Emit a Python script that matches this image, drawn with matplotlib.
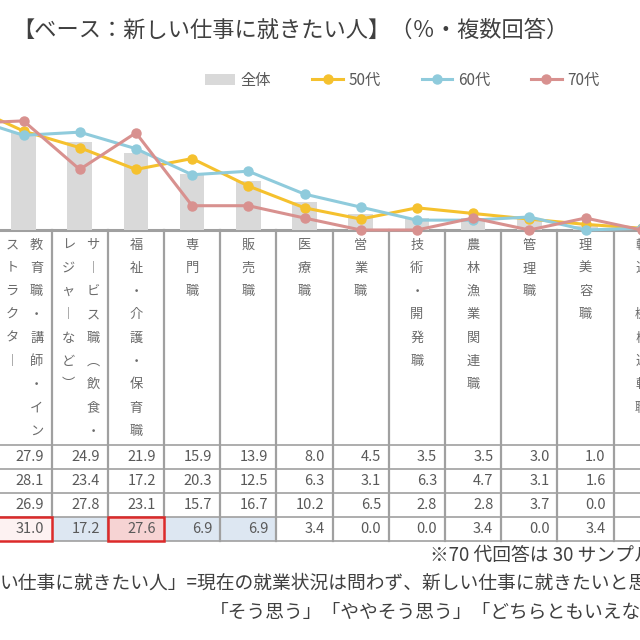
import numpy as np
import matplotlib
matplotlib.use("Agg")
import matplotlib.pyplot as plt
from matplotlib.patches import Rectangle

plt.rcParams['font.family'] = ['Noto Sans CJK JP', 'DejaVu Sans']

# data (first and last categories are only partly visible in the crop)
categories = ["事務職", "教育職・講師・インストラクター", "サービス職（飲食・レジャーなど）",
              "福祉・介護・保育職", "専門職", "販売職", "医療職", "営業職", "技術・開発職",
              "農林漁業関連職", "管理職", "理美容職", "輸送・機械運転職"]
total = [34.0, 27.9, 24.9, 21.9, 15.9, 13.9, 8.0, 4.5, 3.5, 3.5, 3.0, 1.0, 0.5]
age50 = [35.5, 28.1, 23.4, 17.2, 20.3, 12.5, 6.3, 3.1, 6.3, 4.7, 3.1, 1.6, 0.5]
age60 = [32.0, 26.9, 27.8, 23.1, 15.7, 16.7, 10.2, 6.5, 2.8, 2.8, 3.7, 0.0, 0.5]
age70 = [30.3, 31.0, 17.2, 27.6, 6.9, 6.9, 3.4, 0.0, 0.0, 3.4, 0.0, 3.4, 0.0]
series_names = ["全体", "50代", "60代", "70代"]

# 70代 cells marked in the table
high_70 = ["教育職・講師・インストラクター", "福祉・介護・保育職"]
low_70 = ["サービス職（飲食・レジャーなど）", "専門職", "販売職"]

title = "【ベース：新しい仕事に就きたい人】（％・複数回答）"
notes = ["※70 代回答は 30 サンプル",
         "い仕事に就きたい人」=現在の就業状況は問わず、新しい仕事に就きたいと思",
         "「そう思う」「ややそう思う」「どちらともいえな"]

# layout (pixels of a 640x640 canvas)
W = H = 640
PITCH = 56.2
C1 = 23.5          # pixel centre of category index 1
PX_PER_PCT = 3.52
BASE_Y = 230
TOP_Y = 95

c_bar = '#d9d9d9'
c50 = '#f5c12e'
c60 = '#8fcbdc'
c70 = '#d8918f'
c_grid = '#a0a0a0'
c_text = '#595959'

x = np.arange(len(categories))
xlim = (1 - C1 / PITCH, 1 + (W - C1) / PITCH)

fig = plt.figure(figsize=(6.4, 6.4), dpi=100)

# overlay axes in pixel units for the table
tax = fig.add_axes([0, 0, 1, 1], zorder=0)
tax.set_xlim(*xlim)
tax.set_ylim(H, 0)
tax.axis('off')

ax = fig.add_axes([0, (H - BASE_Y) / H, 1, (BASE_Y - TOP_Y) / H], zorder=1)
ax.set_facecolor('none')
ax.set_xlim(*xlim)
ax.set_ylim(0, (BASE_Y - TOP_Y) / PX_PER_PCT)
ax.axis('off')

bars = ax.bar(x, total, width=0.44, color=c_bar, zorder=1)
l50, = ax.plot(x, age50, color=c50, lw=2.2, marker='o', ms=6.5, clip_on=False, zorder=3)
l60, = ax.plot(x, age60, color=c60, lw=2.2, marker='o', ms=6.5, clip_on=False, zorder=3)
l70, = ax.plot(x, age70, color=c70, lw=2.2, marker='o', ms=6.5, clip_on=False, zorder=4)

fig.legend([bars, l50, l60, l70], series_names, loc='center',
           bbox_to_anchor=(402 / W, 1 - 80 / H), ncol=4, frameon=False,
           fontsize=11, handlelength=2.0, handletextpad=0.35, columnspacing=2.7,
           labelcolor=c_text)

fig.text(12 / W, 1 - 30 / H, title, fontsize=16, color='#404040', va='center', ha='left')

# table
row_edges = [445, 469, 493, 517, 541]
vert = {'ー': '︱', '（': '︵', '）': '︶'}
rows = [total, age50, age60, age70]

for i, cat in enumerate(categories):
    chunks = [cat[k:k + 9] for k in range(0, len(cat), 9)]
    offs = [0.0] if len(chunks) == 1 else [0.235, -0.2]
    for chunk, off in zip(chunks, offs):
        for j, ch in enumerate(chunk):
            tax.text(i + off, 245 + 23.3 * j, vert.get(ch, ch), ha='center', va='center',
                     fontsize=9.5, color='#6b6b6b')
    # 70代 highlights
    if cat in low_70:
        tax.add_patch(Rectangle((i - 0.5, row_edges[3]), 1, row_edges[4] - row_edges[3],
                                facecolor='#dde7f2', edgecolor='none', zorder=1))
    if cat in high_70:
        fc = '#f6d3d3' if cat == high_70[1] else '#fdf2f2'
        tax.add_patch(Rectangle((i - 0.5, row_edges[3]), 1, row_edges[4] - row_edges[3],
                                facecolor=fc, edgecolor='#dc2a2a', lw=1.8, zorder=3))
    for r, vals in enumerate(rows):
        tax.text(i + 0.5 - 0.14, (row_edges[r] + row_edges[r + 1]) / 2, f"{vals[i]:.1f}",
                 ha='right', va='center', fontsize=10.5, color=c_text, zorder=4)

for i in range(len(categories) + 1):
    tax.plot([i - 0.5, i - 0.5], [BASE_Y, row_edges[-1]], color=c_grid, lw=1.6, zorder=2)
for y in row_edges:
    tax.plot(list(xlim), [y, y], color=c_grid, lw=1.2, zorder=2)
tax.plot(list(xlim), [BASE_Y, BASE_Y], color=c_grid, lw=2.2, zorder=2)

fig.text(430 / W, 1 - 555 / H, notes[0], fontsize=13.5, color='#404040', va='center', ha='left')
fig.text(0, 1 - 583 / H, notes[1], fontsize=13.5, color='#404040', va='center', ha='left')
fig.text(210 / W, 1 - 612 / H, notes[2], fontsize=13.5, color='#404040', va='center', ha='left')

fig.savefig('out.png', dpi=100)
